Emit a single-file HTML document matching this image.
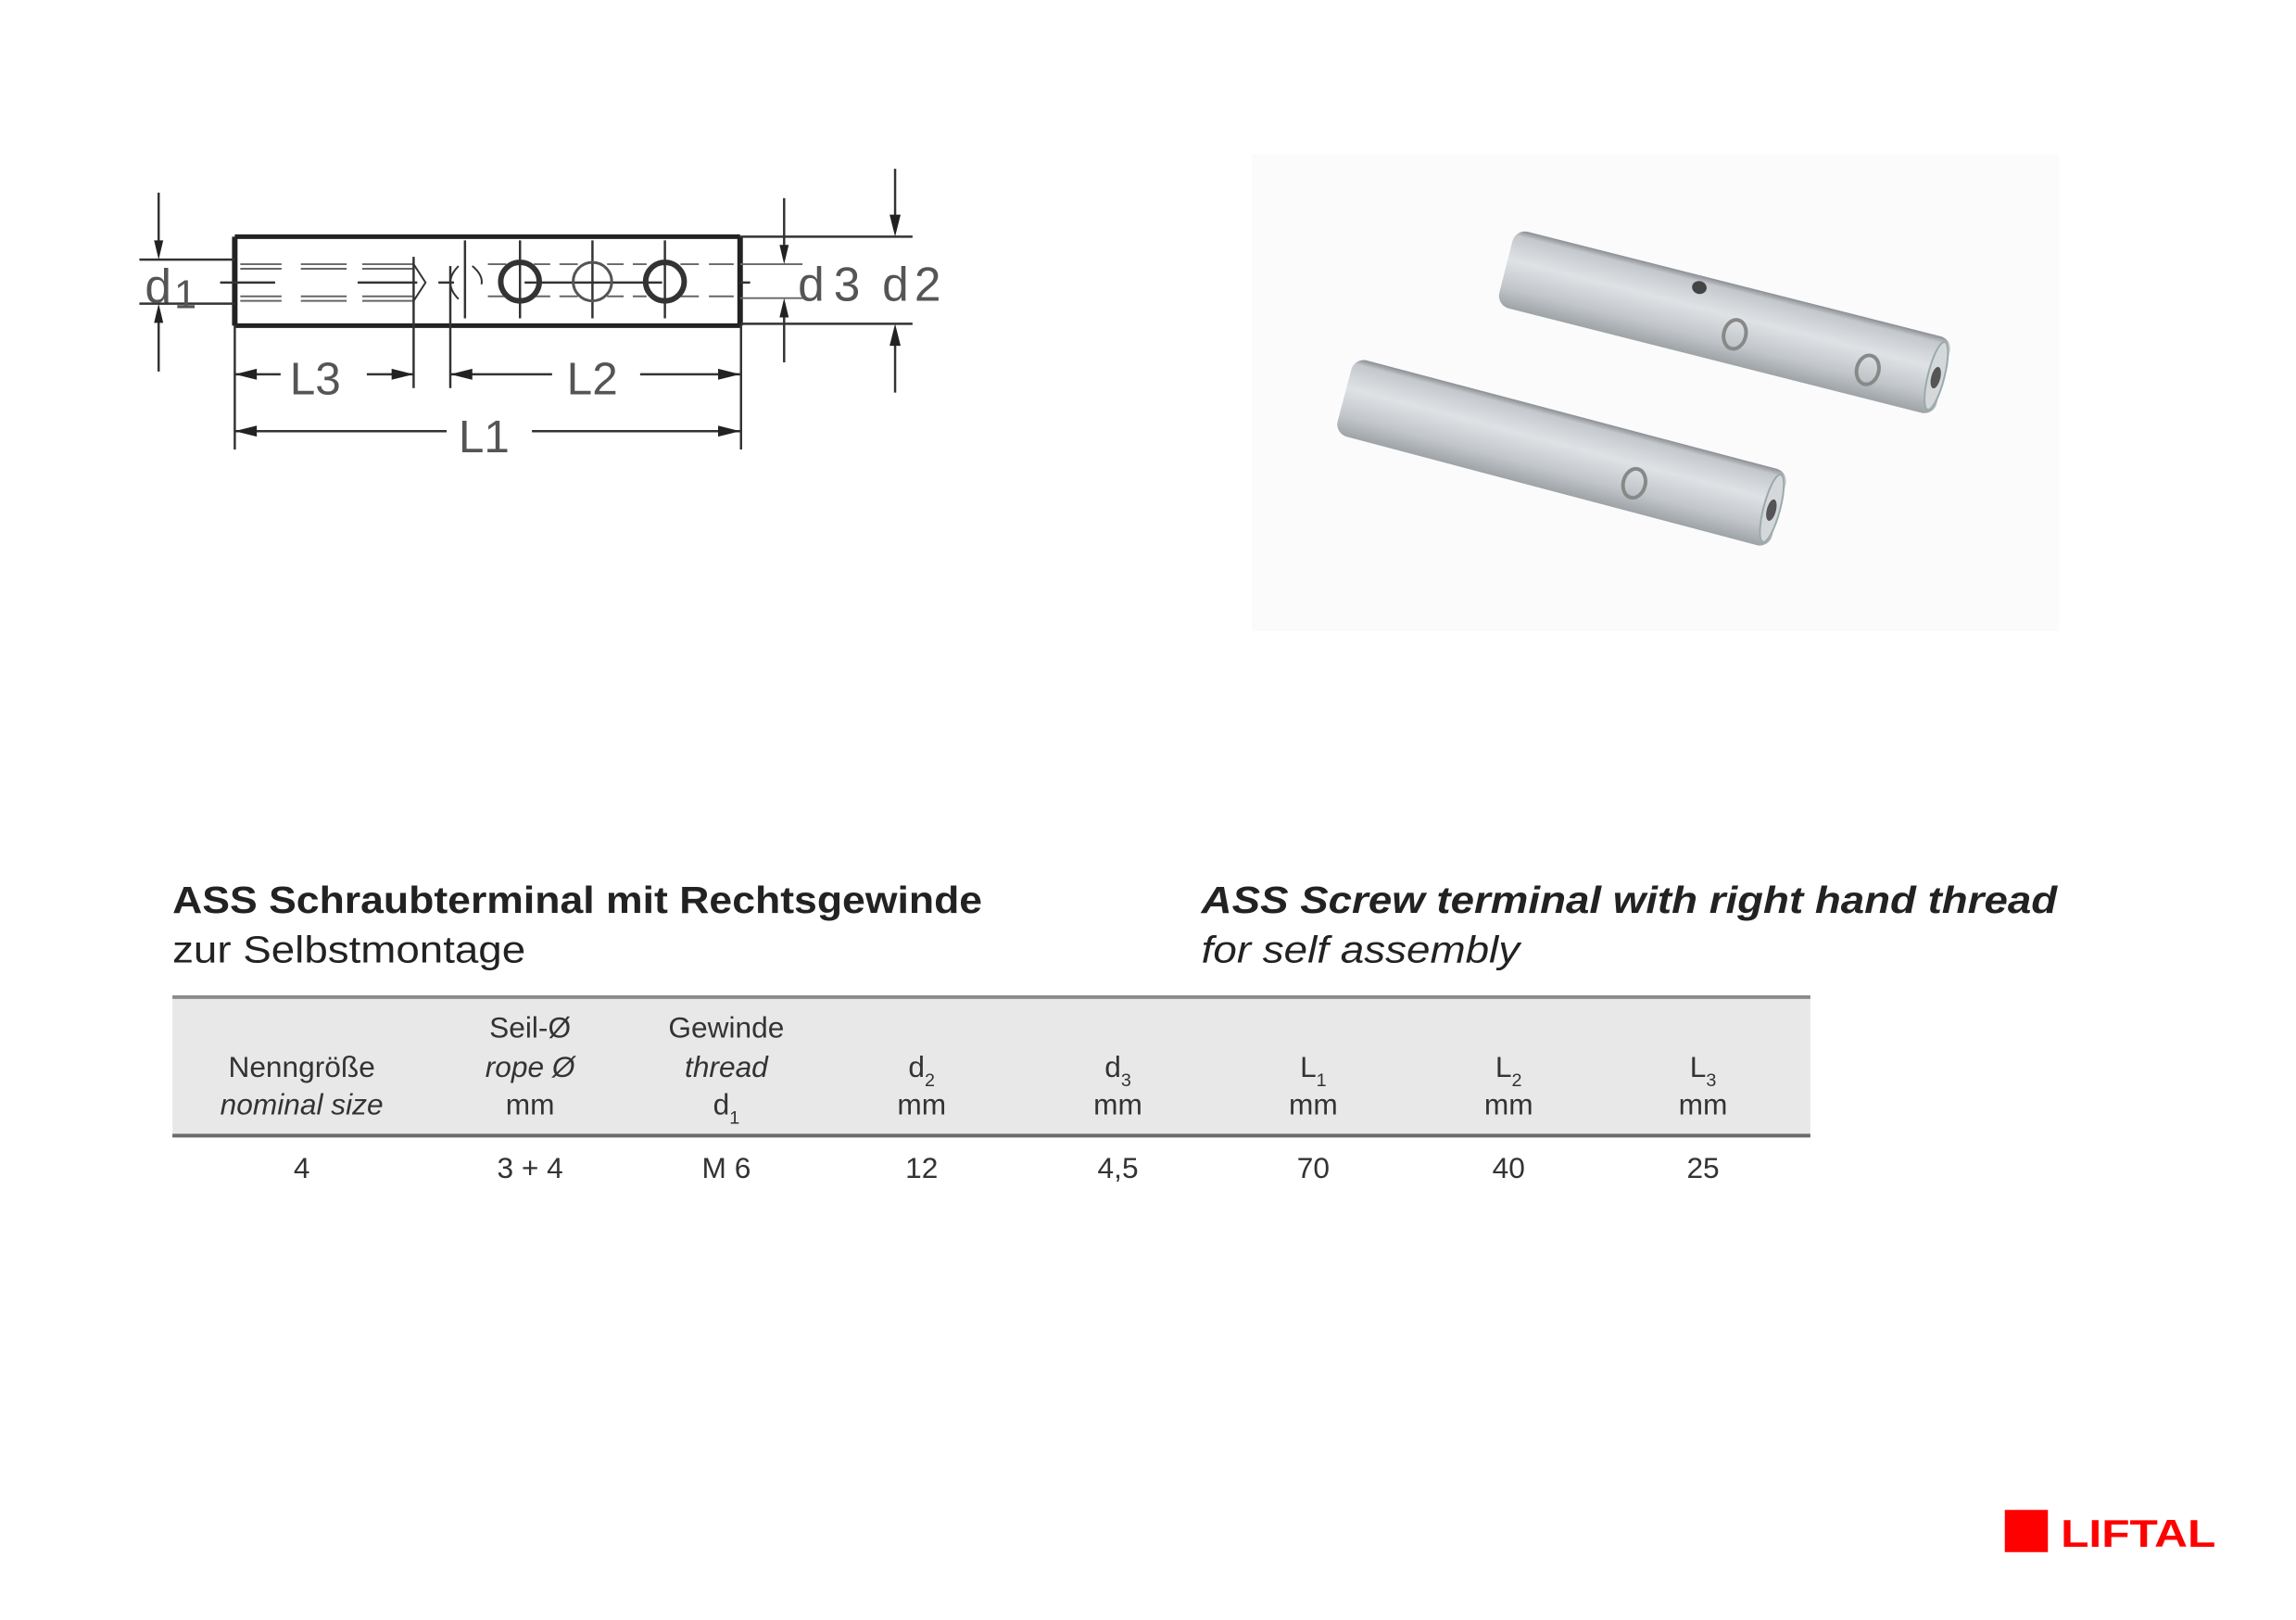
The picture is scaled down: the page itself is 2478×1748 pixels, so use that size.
<!DOCTYPE html>
<html><head><meta charset="utf-8"><style>
html,body{margin:0;padding:0;background:#fff;}
svg{display:block;}
</style></head><body>
<svg width="2478" height="1748" viewBox="0 0 2503 1766" preserveAspectRatio="xMinYMin meet" xmlns="http://www.w3.org/2000/svg">
<defs>
<linearGradient id="cyl" x1="0" y1="0" x2="0" y2="1">
<stop offset="0" stop-color="#8a8e93"/><stop offset="0.08" stop-color="#c4c8cc"/><stop offset="0.4" stop-color="#dfe2e5"/><stop offset="0.75" stop-color="#c2c6ca"/><stop offset="1" stop-color="#9ea3a8"/>
</linearGradient>
</defs>
<g stroke="#333" fill="none" stroke-width="2.5">
<line x1="256" y1="258" x2="807" y2="258" stroke-width="5" stroke="#222"/>
<line x1="256" y1="355" x2="807" y2="355" stroke-width="5" stroke="#222"/>
<line x1="256" y1="258" x2="256" y2="355" stroke-width="6" stroke="#222"/>
<line x1="807" y1="258" x2="807" y2="355" stroke-width="6" stroke="#222"/>
<line x1="152" y1="283" x2="256" y2="283"/>
<line x1="152" y1="331" x2="256" y2="331"/>
<line x1="173" y1="210" x2="173" y2="268"/>
<line x1="173" y1="346" x2="173" y2="405"/>
<line x1="240" y1="308" x2="300" y2="308"/>
<line x1="390" y1="308" x2="455" y2="308"/>
<line x1="478" y1="308" x2="495" y2="308"/>
<line x1="572" y1="308" x2="722" y2="308"/>
<line x1="807" y1="308" x2="818" y2="308"/>
<g stroke="#666" stroke-width="2">
<path d="M262 288H307M262 293H307M262 323H307M262 328H307"/>
<path d="M328 288H378M328 293H378M328 323H378M328 328H378"/>
<path d="M395 288H450M395 293H450M395 323H450M395 328H450"/>
<path d="M532 288H552M532 323H552M582 288H600M582 323H600M610 288H630M610 323H630M662 288H680M662 323H680M690 288H705M690 323H705M742 288H762M742 323H762M773 288H800M773 323H800"/>
<path d="M807 288H875M807 325H875"/>
</g>
<path d="M451 288 L464 308 L451 328" stroke-width="2"/>
<path d="M500 290 Q482 308 500 326" stroke-width="2"/>
<path d="M515 290 Q527 300 525 310" stroke-width="2"/>
<line x1="451" y1="280" x2="451" y2="423"/>
<line x1="491" y1="290" x2="491" y2="423"/>
<line x1="507" y1="262" x2="507" y2="347"/>
<line x1="567" y1="262" x2="567" y2="347"/>
<line x1="646" y1="262" x2="646" y2="347"/>
<line x1="725" y1="262" x2="725" y2="347"/>
<circle cx="567" cy="307" r="21" stroke-width="6" stroke="#333"/>
<circle cx="646" cy="307" r="21" stroke-width="3" stroke="#555"/>
<circle cx="725" cy="307" r="21" stroke-width="6" stroke="#333"/>
<line x1="807" y1="258" x2="995" y2="258"/>
<line x1="807" y1="353" x2="995" y2="353"/>
<line x1="855" y1="216" x2="855" y2="272"/>
<line x1="855" y1="340" x2="855" y2="395"/>
<line x1="976" y1="184" x2="976" y2="240"/>
<line x1="976" y1="371" x2="976" y2="428"/>
<line x1="256" y1="355" x2="256" y2="490"/>
<line x1="808" y1="355" x2="808" y2="490"/>
<line x1="256" y1="408" x2="306" y2="408"/>
<line x1="400" y1="408" x2="451" y2="408"/>
<line x1="491" y1="408" x2="602" y2="408"/>
<line x1="698" y1="408" x2="807" y2="408"/>
<line x1="256" y1="470" x2="487" y2="470"/>
<line x1="580" y1="470" x2="807" y2="470"/>
</g>
<g fill="#222">
<polygon points="173,283 168,262 178,262"/>
<polygon points="173,331 168,352 178,352"/>
<polygon points="855,288 850,267 860,267"/>
<polygon points="855,325 850,346 860,346"/>
<polygon points="976,258 970,234 982,234"/>
<polygon points="976,353 970,377 982,377"/>
<polygon points="256,408 280,402 280,414"/>
<polygon points="451,408 427,402 427,414"/>
<polygon points="491,408 515,402 515,414"/>
<polygon points="807,408 783,402 783,414"/>
<polygon points="256,470 280,464 280,476"/>
<polygon points="807,470 783,464 783,476"/>
</g>
<g font-family="Liberation Sans, sans-serif" fill="#555" font-weight="normal">
<text x="158" y="330" font-size="52">d</text><text x="190" y="336" font-size="44">1</text>
<text x="870" y="328" font-size="52" textLength="68">d3</text>
<text x="962" y="328" font-size="52" textLength="64">d2</text>
<text x="316" y="430" font-size="50">L3</text>
<text x="618" y="430" font-size="50">L2</text>
<text x="500" y="493" font-size="50">L1</text>
</g>
<rect x="1365" y="168" width="880" height="520" fill="#fbfbfb"/>
<g transform="translate(1642,291) rotate(14.2)">
<rect x="0" y="-43" width="492" height="86" rx="14" fill="url(#cyl)"/>
<ellipse cx="484" cy="0" rx="9" ry="38" fill="#d5d8db" stroke="#9aa" stroke-width="2"/>
<ellipse cx="484" cy="2" rx="5" ry="12" fill="#555"/>
<ellipse cx="210" cy="-30" rx="8" ry="7" fill="#444"/>
<ellipse cx="260" cy="10" rx="12" ry="16" fill="none" stroke="#888" stroke-width="4"/>
<ellipse cx="410" cy="12" rx="12" ry="16" fill="none" stroke="#888" stroke-width="4"/>
</g>
<g transform="translate(1466,431) rotate(14.8)">
<rect x="0" y="-43" width="490" height="86" rx="14" fill="url(#cyl)"/>
<ellipse cx="482" cy="0" rx="9" ry="38" fill="#d5d8db" stroke="#9aa" stroke-width="2"/>
<ellipse cx="482" cy="2" rx="5" ry="12" fill="#555"/>
<ellipse cx="330" cy="12" rx="12" ry="16" fill="none" stroke="#888" stroke-width="4"/>
</g>
<g font-family="Liberation Sans, sans-serif" fill="#222">
<text x="188" y="995" font-size="41" font-weight="bold" textLength="883" lengthAdjust="spacingAndGlyphs">ASS Schraubterminal mit Rechtsgewinde</text>
<text x="188" y="1049" font-size="41" textLength="385" lengthAdjust="spacingAndGlyphs">zur Selbstmontage</text>
<text x="1310" y="995" font-size="41" font-weight="bold" font-style="italic" textLength="933" lengthAdjust="spacingAndGlyphs">ASS Screw terminal with right hand thread</text>
<text x="1310" y="1049" font-size="41" font-style="italic" textLength="347" lengthAdjust="spacingAndGlyphs">for self assembly</text>
</g>
<rect x="188" y="1086" width="1786" height="152" fill="#e8e8e8"/>
<line x1="188" y1="1087" x2="1974" y2="1087" stroke="#8a8a8a" stroke-width="4"/>
<line x1="188" y1="1238" x2="1974" y2="1238" stroke="#6a6a6a" stroke-width="4"/>
<g font-family="Liberation Sans, sans-serif" fill="#333" font-size="32" text-anchor="middle">
<text x="329" y="1174">Nenngröße</text>
<text x="329" y="1215" font-style="italic">nominal size</text>
<text x="578" y="1131">Seil-Ø</text>
<text x="578" y="1174" font-style="italic">rope Ø</text>
<text x="578" y="1215">mm</text>
<text x="792" y="1131">Gewinde</text>
<text x="792" y="1174" font-style="italic">thread</text>
<text x="792" y="1215">d<tspan font-size="20" dy="10">1</tspan></text>
<text x="1005" y="1174">d<tspan font-size="20" dy="10">2</tspan></text>
<text x="1005" y="1215">mm</text>
<text x="1219" y="1174">d<tspan font-size="20" dy="10">3</tspan></text>
<text x="1219" y="1215">mm</text>
<text x="1432" y="1174">L<tspan font-size="20" dy="10">1</tspan></text>
<text x="1432" y="1215">mm</text>
<text x="1645" y="1174">L<tspan font-size="20" dy="10">2</tspan></text>
<text x="1645" y="1215">mm</text>
<text x="1857" y="1174">L<tspan font-size="20" dy="10">3</tspan></text>
<text x="1857" y="1215">mm</text>
<text x="329" y="1284">4</text>
<text x="578" y="1284">3 + 4</text>
<text x="792" y="1284">M 6</text>
<text x="1005" y="1284">12</text>
<text x="1219" y="1284">4,5</text>
<text x="1432" y="1284">70</text>
<text x="1645" y="1284">40</text>
<text x="1857" y="1284">25</text>
</g>
<rect x="2186" y="1646" width="47" height="46" fill="#f00"/>
<text x="2247" y="1686" font-family="Liberation Sans, sans-serif" font-weight="bold" font-size="42" fill="#f00" textLength="169" lengthAdjust="spacingAndGlyphs">LIFTAL</text>
</svg>
</body></html>
